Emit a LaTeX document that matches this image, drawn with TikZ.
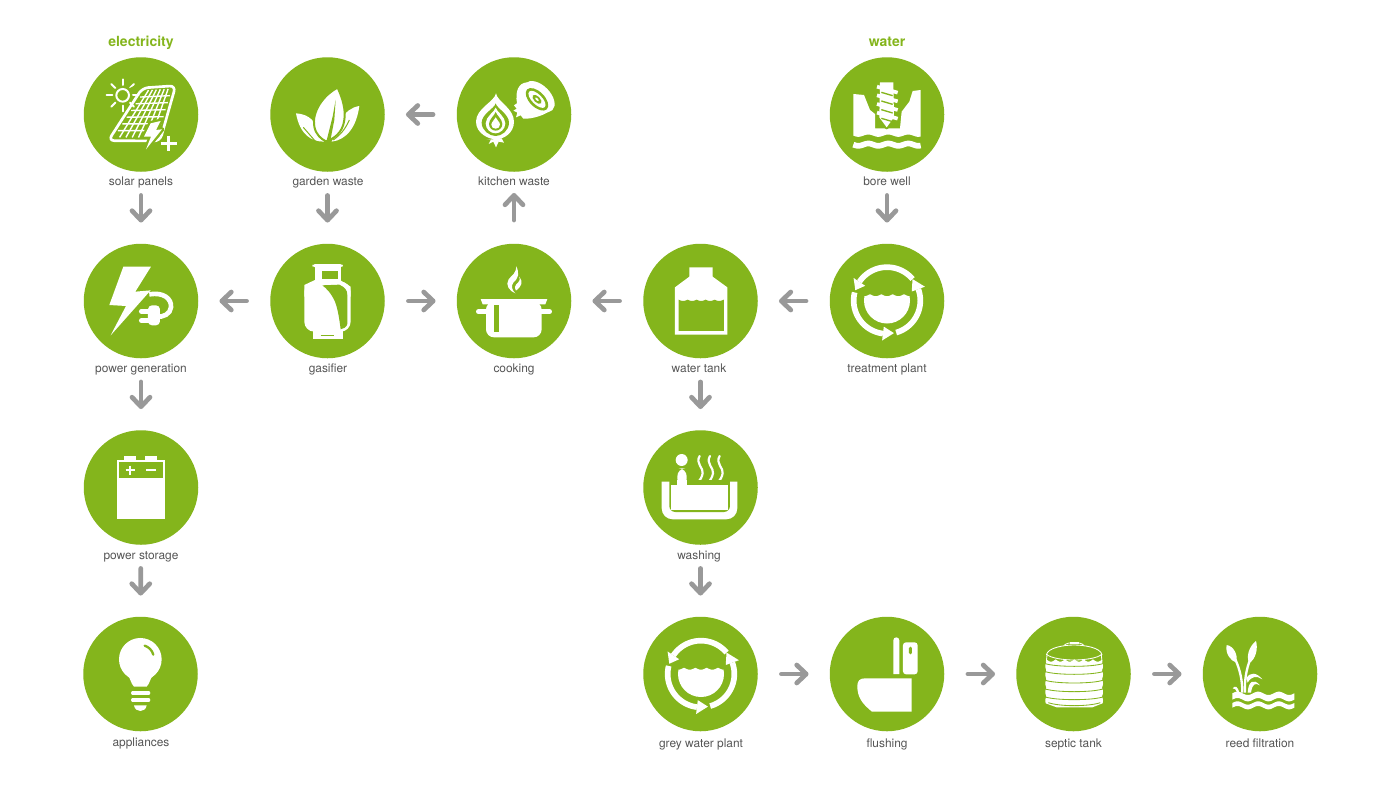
\documentclass[tikz,border=0pt]{standalone}
\usepackage{fontspec}
\setmainfont{TeX Gyre Heros}
\usetikzlibrary{arrows.meta,calc}
\definecolor{leaf}{HTML}{84B51C}
\definecolor{flowgrey}{HTML}{999999}
\definecolor{captiongrey}{HTML}{555555}
\tikzset{
  hub/.style={circle,fill=leaf,draw=none,minimum size=114.5pt,inner sep=0pt},
  caption/.style={text=captiongrey,font=\fontsize{11.9}{14}\selectfont,inner sep=0pt,anchor=base},
  heading/.style={text=leaf,font=\fontsize{14}{16}\selectfont\bfseries,inner sep=0pt,anchor=base},
  flowarrow/.style={draw=flowgrey,line width=4.7pt,line cap=round,shorten <=23.5pt,shorten >=21pt,
     -{Straight Barb[round,length=9.5pt,width=18pt]}},
  zoomed/.style 2 args={shift={(#1,#2)},x=0.3333pt,y=-0.3333pt},
  lw/.style={line width=#1*0.3333pt},
}
% recycling ring arrow: arc from a to b, head from b to c (centre at origin, zoom units)
\newcommand\ringarrow[3]{%
  \draw[white,lw=17] plot[domain=#1:#2,samples=40] ({100*cos(\x)},{100*sin(\x)});
  \fill[white] ({121*cos(#2)},{121*sin(#2)}) -- ({79*cos(#2)},{79*sin(#2)}) -- ({100*cos(#3)},{100*sin(#3)}) -- cycle;
}
\newcommand\planticon[2]{%
  \begin{scope}[zoomed={#1}{#2}]
    \ringarrow{-40}{-146}{-162}
    \ringarrow{194}{97}{78}
    \ringarrow{74}{-20}{-40}
    \begin{scope}
      \clip (0,0) circle [radius=69];
      \fill[white] plot[domain=-75:75,samples=80] (\x,{-19+6*abs(sin((\x+17)*5.294))}) -- (75,75) -- (-75,75) -- cycle;
    \end{scope}
  \end{scope}
}
\begin{document}
\begin{tikzpicture}[x=1pt,y=-1pt]
\useasboundingbox (0,0) rectangle (1400,788);
\fill[white] (0,0) rectangle (1400,788);

% hubs
\node[hub] (solar)   at (141,114.5) {};
\node[hub] (garden)  at (327.5,114.5) {};
\node[hub] (kitchen) at (514,114.5) {};
\node[hub] (bore)    at (887,114.5) {};
\node[hub] (powergen) at (141,301) {};
\node[hub] (gasifier) at (327.5,301) {};
\node[hub] (cooking) at (514,301) {};
\node[hub] (tank)    at (700.5,301) {};
\node[hub] (treat)   at (887,301) {};
\node[hub] (storage) at (141,487.5) {};
\node[hub] (washing) at (700.5,487.5) {};
\node[hub] (appl)    at (140.5,674) {};
\node[hub] (grey)    at (700.5,674) {};
\node[hub] (flush)   at (887,674) {};
\node[hub] (septic)  at (1073.5,674) {};
\node[hub] (reed)    at (1260,674) {};

% texts
\node[heading] (hElec) at (141,46) {electricity};
\node[heading] (hWater) at (887,46) {water};
\node[caption] (tSolar) at (141,185) {solar panels};
\node[caption] (tGarden) at (328,185) {garden waste};
\node[caption] (tKitchen) at (514,185) {kitchen waste};
\node[caption] (tBore) at (887,185) {bore well};
\node[caption] (tPower) at (141,372.7) {power generation};
\node[caption] (tGas) at (328,372.7) {gasifier};
\node[caption] (tCook) at (514,372.7) {cooking};
\node[caption] (tTank) at (699,372.7) {water tank};
\node[caption] (tTreat) at (887,372.7) {treatment plant};
\node[caption] (tStore) at (141,559.5) {power storage};
\node[caption] (tWash) at (699,559.5) {washing};
\node[caption] (tAppl) at (141,746) {appliances};
\node[caption] (tGrey) at (701,747.7) {grey water plant};
\node[caption] (tFlush) at (887,747.7) {flushing};
\node[caption] (tSeptic) at (1073.5,747.7) {septic tank};
\node[caption] (tReed) at (1260,747.7) {reed filtration};

% connectors
\draw[flowarrow] (solar) -- (powergen);
\draw[flowarrow] (garden) -- (gasifier);
\draw[flowarrow] (kitchen) -- (garden);
\draw[flowarrow] (cooking) -- (kitchen);
\draw[flowarrow] (bore) -- (treat);
\draw[flowarrow] (gasifier) -- (powergen);
\draw[flowarrow] (gasifier) -- (cooking);
\draw[flowarrow] (tank) -- (cooking);
\draw[flowarrow] (treat) -- (tank);
\draw[flowarrow] (powergen) -- (storage);
\draw[flowarrow] (storage) -- (appl);
\draw[flowarrow] (tank) -- (washing);
\draw[flowarrow] (washing) -- (grey);
\draw[flowarrow] (grey) -- (flush);
\draw[flowarrow] (flush) -- (septic);
\draw[flowarrow] (septic) -- (reed);

% --- solar panel
\begin{scope}[zoomed={70}{20}]
  \draw[white,lw=6] (158,226) circle [radius=19];
  \foreach \a in {0,45,...,315}{
    \draw[white,lw=6,line cap=round] ({158+31*cos(\a)},{226+31*sin(\a)}) -- ({158+48*cos(\a)},{226+48*sin(\a)});
  }
  \draw[leaf,lw=16] (178,214) -- (205,200);
  \draw[white,lw=8,line join=round,rounded corners=6pt] (217,204) -- (317,197) -- (270,363) -- (115,362) -- cycle;
  \coordinate (pa) at (224,211);
  \coordinate (pb) at (306,206);
  \coordinate (pc) at (262,353);
  \coordinate (pd) at (130,352);
  \foreach \t in {0.143,0.286,...,0.9}{
    \draw[white,lw=4.2] ($(pa)!\t!(pb)$) -- ($(pd)!\t!(pc)$);
    \draw[white,lw=4.2] ($(pa)!\t!(pd)$) -- ($(pb)!\t!(pc)$);
  }
  \draw[leaf,lw=14,fill=leaf,line join=round] (242,310) -- (272,303) -- (258,330) -- (276,328) -- (228,388) -- (243,350) -- (222,350) -- cycle;
  \fill[white] (242,310) -- (272,303) -- (258,330) -- (276,328) -- (228,388) -- (243,350) -- (222,350) -- cycle;
  \draw[leaf,lw=14] (296,371) -- (274,371);
  \draw[white,lw=8] (272,371) -- (320,371) (296,347) -- (296,394);
\end{scope}

% --- garden waste
\begin{scope}[zoomed={70}{20}]
  \fill[white] (678,280) .. controls (705,282) and (730,292) .. (745,330) -- (762,365) .. controls (725,365) and (690,345) .. (678,280) -- cycle;
  \fill[white] (868,258) .. controls (845,262) and (825,275) .. (815,300) -- (785,365) .. controls (830,360) and (860,320) .. (868,258) -- cycle;
  \draw[leaf,lw=3] (700,322) -- (738,366);
  \draw[leaf,lw=3] (838,300) .. controls (825,330) and (810,345) .. (790,360);
  \draw[leaf,lw=6,fill=white,line join=round] (803,203) .. controls (760,225) and (725,275) .. (733,320) .. controls (738,345) and (755,358) .. (768,364) .. controls (790,357) and (818,340) .. (823,300) .. controls (828,270) and (818,235) .. (803,203) -- cycle;
  \fill[leaf] (797,240) -- (788,290) -- (770,362) -- (781,362) -- (793,300) -- cycle;
\end{scope}

% --- kitchen waste
\begin{scope}[zoomed={440}{40}]
  \fill[white] (168,160) .. controls (172,185) and (222,205) .. (222,245) .. controls (222,280) and (190,298) .. (168,298) .. controls (146,298) and (108,280) .. (108,245) .. controls (108,205) and (164,185) .. (168,160) -- cycle;
  \fill[white] (140,300) -- (152,300) -- (146,312) -- (160,305) -- (168,322) -- (176,305) -- (192,308) -- (185,295) -- cycle;
  \fill[leaf] (167,190) .. controls (170,205) and (207,222) .. (207,248) .. controls (207,272) and (185,288) .. (167,288) .. controls (149,288) and (125,272) .. (125,248) .. controls (125,222) and (164,205) .. (167,190) -- cycle;
  \fill[white] (167,203) .. controls (170,215) and (196,230) .. (196,250) .. controls (196,268) and (180,280) .. (167,280) .. controls (152,280) and (137,268) .. (137,250) .. controls (137,230) and (164,215) .. (167,203) -- cycle;
  \fill[leaf] (167,216) .. controls (170,226) and (187,238) .. (187,252) .. controls (187,264) and (177,272) .. (167,272) .. controls (157,272) and (147,264) .. (147,252) .. controls (147,238) and (164,226) .. (167,216) -- cycle;
  \fill[white] (167,232) .. controls (170,240) and (180,246) .. (180,254) .. controls (180,262) and (173,266) .. (167,266) .. controls (160,266) and (154,262) .. (154,254) .. controls (154,246) and (164,240) .. (167,232) -- cycle;
  % half onion
  \fill[white] (262,127) .. controls (235,128) and (225,155) .. (231,190) -- (222,196) -- (230,206) -- (220,212) -- (232,218) -- (228,232) -- (242,226) -- (250,236) .. controls (275,238) and (320,225) .. (338,205) -- cycle;
  \fill[white] (297,170) circle [x radius=57,y radius=34,rotate=-45];
  \fill[leaf] (291,178) circle [x radius=42,y radius=23,rotate=-45];
  \fill[white] (291,178) circle [x radius=33,y radius=15,rotate=-45];
  \fill[leaf] (291,178) circle [x radius=17,y radius=9,rotate=-45];
  \fill[white] (291,178) circle [x radius=7,y radius=3,rotate=-45];
\end{scope}

% --- bore well
\begin{scope}[zoomed={820}{30}]
  \fill[white] (100,192) -- (132,195) -- (150,240) -- (165,252) -- (165,295) -- (240,295) -- (245,245) -- (268,215) -- (278,183) -- (302,180) -- plot[domain=302:100,samples=60] (\x,{317+3.5*sin((\x-100)*6)}) -- cycle;
  \draw[leaf,lw=12,line join=round] (180,157) -- (220,157) -- (222,262) -- (200,292) -- (178,262) -- cycle;
  \fill[white] (180,157) -- (220,157) -- (222,262) -- (200,292) -- (178,262) -- cycle;
  \foreach \i in {0,1,2,3}{
    \draw[white,lw=11] (171,{170+26*\i}) -- (233,{188+26*\i});
    \draw[leaf,lw=4] (184,{187+26*\i}) -- (218,{197+26*\i});
  }
  \draw[white,lw=17] plot[domain=100:302,samples=60] (\x,{344+3.5*sin((\x-100)*6)});
\end{scope}

% --- power generation
\begin{scope}[zoomed={70}{230}]
  \fill[white] (160,110) -- (243,110) -- (196,185) -- (242,181) -- (122,316) -- (168,228) -- (118,225) -- cycle;
  \draw[white,lw=14,line cap=butt] (238,193) .. controls (280,186) and (305,205) .. (303,232) .. controls (301,252) and (280,262) .. (260,260);
  \fill[white,rounded corners=4pt] (234,226) rectangle (270,286);
  \draw[white,lw=14,line cap=round] (214,244) -- (240,244) (214,272) -- (240,272);
\end{scope}

% --- gasifier
\begin{scope}[zoomed={70}{230}]
  \fill[white,rounded corners=3pt] (727,102) rectangle (819,112);
  \fill[white] (735,110) rectangle (812,158);
  \fill[leaf] (757,122) rectangle (805,147);
  \fill[white,rounded corners=10pt] (703,155) -- (842,155) -- (842,305) -- (703,305) -- cycle;
  \fill[white] (703,165) -- (735,150) -- (810,150) -- (842,170) -- (842,200) -- (703,200) -- cycle;
  \fill[leaf] (757,166) -- (808,164) .. controls (825,172) and (832,180) .. (832,195) -- (832,282) .. controls (830,292) and (820,296) .. (812,298) .. controls (808,265) and (803,235) .. (795,215) .. controls (785,192) and (770,175) .. (757,166) -- cycle;
  \fill[white] (728,300) rectangle (818,326);
  \draw[leaf,lw=2.5] (752,316) -- (793,316);
\end{scope}

% --- cooking + water tank
\begin{scope}[zoomed={450}{230}]
  \fill[white] (92,207) -- (292,207) -- (286,223) -- (98,223) -- cycle;
  \fill[white,rounded corners=8pt] (108,215) -- (275,215) -- (275,322) -- (108,322) -- cycle;
  \draw[white,lw=14,line cap=round] (85,245) -- (110,245) (275,245) -- (299,245);
  \fill[leaf] (133,224) rectangle (147,305);
  \fill[white] (198,108) .. controls (210,130) and (205,145) .. (190,158) .. controls (182,168) and (186,180) .. (196,190) .. controls (178,183) and (165,165) .. (176,148) .. controls (186,134) and (200,130) .. (198,108) -- cycle;
  \fill[white] (208,140) .. controls (220,155) and (215,170) .. (198,182) .. controls (192,172) and (196,165) .. (204,158) .. controls (210,152) and (211,148) .. (208,140) -- cycle;
  % water tank
  \fill[white] (718,112) -- (788,112) -- (788,140) -- (832,172) -- (832,314) -- (675,314) -- (675,172) -- (718,140) -- cycle;
  \fill[leaf] plot[domain=686:822,samples=100] (\x,{209+4*abs(sin((\x-686)*6.667))}) -- (822,303) -- (686,303) -- cycle;
\end{scope}

% --- treatment + grey
\planticon{887}{300.5}
\planticon{701}{674}

% --- power storage + appliances
\begin{scope}[zoomed={70}{420}]
  \fill[white] (163,109) rectangle (198,123);
  \fill[white] (224,109) rectangle (260,123);
  \fill[white] (140,121) rectangle (285,297);
  \fill[leaf] (147,127) rectangle (278,175);
  \draw[white,lw=5.5] (167,151) -- (195,151) (181,137) -- (181,165);
  \draw[white,lw=5.5] (229,151) -- (258,151);
  % bulb
  \fill[white] (211,718) circle [radius=64];
  \fill[white] (172,765) .. controls (182,775) and (182,790) .. (192,800) -- (230,800) .. controls (240,790) and (240,775) .. (250,765) -- cycle;
  \draw[leaf,lw=7,line cap=round] (224,677) .. controls (236,681) and (246,690) .. (250,704);
  \draw[white,lw=10,line cap=round] (188,819) -- (236,819) (188,840) -- (236,840);
  \fill[white] (192,856) -- (230,856) .. controls (228,868) and (220,873) .. (211,873) .. controls (202,873) and (194,868) .. (192,856) -- cycle;
\end{scope}

% --- washing
\begin{scope}[zoomed={630}{420}]
  \fill[white] (155,120) circle [radius=18];
  \fill[white,rounded corners=8pt] (142,145) rectangle (170,200);
  \foreach \dx in {0,31,60}{
    \draw[white,lw=6.5,line cap=round] ({209+\dx},108) .. controls ({195+\dx},130) and ({222+\dx},145) .. ({218+\dx},160) .. controls ({216+\dx},172) and ({210+\dx},180) .. ({205+\dx},186);
  }
  \fill[white] (95,185) [rounded corners=11pt] -- (95,298) -- (322,298) [sharp corners] -- (322,185) -- cycle;
  \fill[leaf] (118,180) [rounded corners=6pt] -- (118,276) -- (300,276) [sharp corners] -- (300,180) -- cycle;
  \fill[white] (124,195) rectangle (293,271);
  \fill[white] (142,180) rectangle (170,200);
\end{scope}

% --- flushing
\begin{scope}[zoomed={630}{610}]
  \fill[white] (790,192) [rounded corners=3pt] -- (790,82) -- (808,82) [sharp corners] -- (808,192) -- cycle;
  \fill[white,rounded corners=3pt] (819,97) rectangle (863,193);
  \fill[leaf,rounded corners=1.5pt] (837,110) rectangle (846,133);
  \fill[white] (845,205) -- (845,305) -- (726,305) .. controls (695,280) and (682,260) .. (682,228) .. controls (682,212) and (690,205) .. (705,205) -- cycle;
\end{scope}

% --- septic tank + reed
\begin{scope}[zoomed={1005}{610}]
  \draw[white,lw=2.5] (178,106) .. controls (185,95) and (230,95) .. (236,106);
  \draw[white,lw=2.5] (195,96) rectangle (220,101);
  \draw[white,lw=2.5] (124,135) .. controls (128,112) and (180,105) .. (207,105) .. controls (235,105) and (288,112) .. (291,135);
  \draw[white,lw=2.5] (124,132) .. controls (135,145) and (180,150) .. (207,150) .. controls (235,150) and (280,145) .. (291,132);
  \fill[white] plot[domain=124:291,samples=80] (\x,{148+7*abs(sin((\x-124)*6.4286))})
     -- plot[domain=155:280,samples=80] ({291+3*abs(sin((\x-155)*6.923))},\x)
     -- (262,292) -- (155,292)
     -- plot[domain=280:155,samples=80] ({124-3*abs(sin((\x-155)*6.923))},\x) -- cycle;
  \draw[white,lw=2.5] (126,135) -- (124,155) (289,135) -- (291,155);
  \foreach \y in {160,184,210,236,260}{
    \draw[leaf,lw=2.5] (118,\y) .. controls (150,{\y+12}) and (265,{\y+12}) .. (296,\y);
  }
  \draw[leaf,lw=2.5] (130,278) .. controls (165,290) and (250,290) .. (286,278);
  % reed
  \fill[white] (665,105) .. controls (686,108) and (700,135) .. (694,158) .. controls (676,152) and (660,130) .. (665,105) -- cycle;
  \fill[white] (753,93) .. controls (760,115) and (752,148) .. (733,159) .. controls (722,140) and (733,108) .. (753,93) -- cycle;
  \draw[white,lw=7] (692,150) .. controls (705,180) and (712,210) .. (712,248);
  \draw[white,lw=7] (735,150) .. controls (725,175) and (718,210) .. (720,248);
  \fill[white] (724,205) .. controls (735,185) and (755,187) .. (772,208) .. controls (755,196) and (740,198) .. (728,218) -- cycle;
  \fill[white] (728,248) .. controls (730,215) and (745,203) .. (765,226) .. controls (750,217) and (742,222) .. (738,248) -- cycle;
  \fill[white] (683,235) .. controls (690,226) and (698,228) .. (703,248) -- (696,248) .. controls (693,238) and (688,234) .. (683,235) -- cycle;
  \fill[white] plot[domain=682:868,samples=70] (\x,{250-5*sin((\x-682)*5.806)}) -- plot[domain=868:682,samples=70] (\x,{269-5*sin((\x-682)*5.806)}) -- cycle;
  \fill[white] plot[domain=682:868,samples=70] (\x,{279-5*sin((\x-682)*5.806)}) -- plot[domain=868:682,samples=70] (\x,{293-5*sin((\x-682)*5.806)}) -- cycle;
\end{scope}
\end{tikzpicture}
\end{document}
